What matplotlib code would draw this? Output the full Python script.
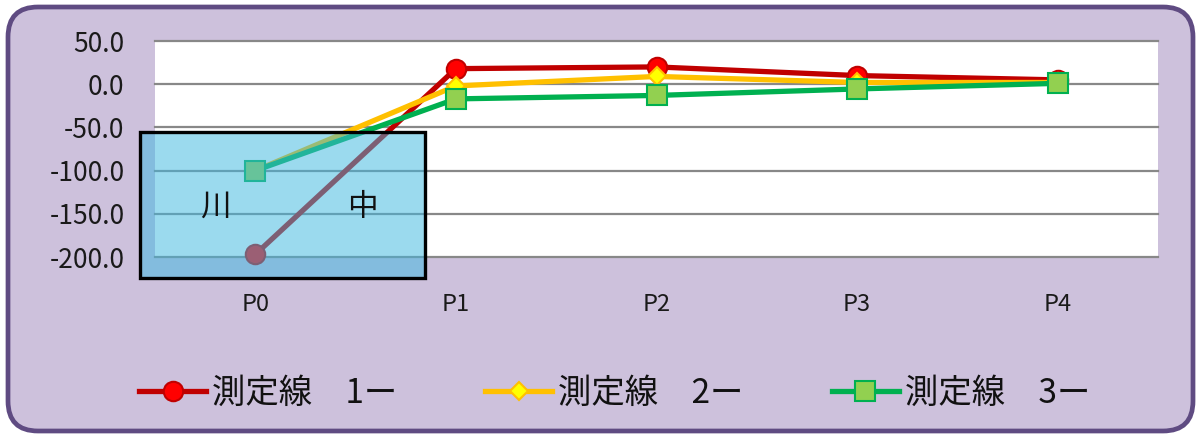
import numpy as np
import matplotlib
matplotlib.use("Agg")
import matplotlib.pyplot as plt
from matplotlib.patches import FancyBboxPatch, Rectangle

plt.rcParams['font.family'] = ['Noto Sans CJK JP', 'DejaVu Sans']

# measurement points and the three survey lines
points = ["P0", "P1", "P2", "P3", "P4"]
line1 = [-197.0, 18.0, 20.0, 10.0, 5.0]
line2 = [-100.0, -2.0, 9.0, 2.0, 2.0]
line3 = [-100.0, -17.0, -13.0, -5.5, 1.0]
names = ["測定線　1ー", "測定線　2ー", "測定線　3ー"]
yticks = [50, 0, -50, -100, -150, -200]

W, H = 1198, 436
fig = plt.figure(figsize=(W / 100, H / 100), dpi=100)
fig.patch.set_facecolor("white")

# rounded lavender frame (inches)
frame = FancyBboxPatch((0.08, 0.05), 11.85, 4.24,
                       boxstyle="round,pad=0,rounding_size=0.3",
                       transform=fig.dpi_scale_trans,
                       facecolor="#cdc1dc", edgecolor="#5f4b82",
                       linewidth=3.4, zorder=-10)
fig.add_artist(frame)

ax = fig.add_axes([155 / W, 1 - 257 / H, 1003 / W, 216 / H])
ax.set_facecolor("white")
x = np.arange(len(points))

styles = [
    dict(color="#c00000", marker="o", markersize=14, markerfacecolor="#ff0000",
         markeredgecolor="#c00000"),
    dict(color="#ffc000", marker="D", markersize=9, markerfacecolor="#ffff00",
         markeredgecolor="#ffc000"),
    dict(color="#00b050", marker="s", markersize=15, markerfacecolor="#92d050",
         markeredgecolor="#00b050"),
]
for vals, name, st in zip([line1, line2, line3], names, styles):
    ax.plot(x, vals, linewidth=3.8, markeredgewidth=1.5, label=name,
            clip_on=False, zorder=3, **st)

ax.set_xlim(-0.5, len(points) - 0.5)
ax.set_ylim(-200, 50)
ax.set_yticks(yticks)
ax.set_yticklabels([f"{v:.1f}" for v in yticks])
ax.set_xticks(x)
ax.set_xticklabels(points)
ax.tick_params(axis="y", length=0, pad=22, labelsize=19, labelcolor="#1a1a1a")
ax.tick_params(axis="x", length=0, pad=26, labelsize=17, labelcolor="#1a1a1a")
ax.yaxis.grid(True, color="#888888", linewidth=1.6)
ax.set_axisbelow(True)
for gl in ax.get_ygridlines():
    gl.set_clip_on(False)
for sp in ax.spines.values():
    sp.set_visible(False)

# translucent river section box
box = Rectangle((1.40, 1.58), 2.85, 1.46, transform=fig.dpi_scale_trans,
                facecolor=(0.25, 0.72, 0.88, 0.52), edgecolor="black",
                linewidth=2.4, zorder=5)
fig.add_artist(box)
fig.text(215 / W, 1 - 207 / H, "川", fontsize=22, ha="center", va="center",
         color="#111111", zorder=6)
fig.text(362 / W, 1 - 207 / H, "中", fontsize=22, ha="center", va="center",
         color="#111111", zorder=6)

fig.legend(loc="center", bbox_to_anchor=(0.513, 1 - 393 / H), ncol=3,
           frameon=False, fontsize=24, handlelength=2.0, handletextpad=0.18,
           columnspacing=2.65, labelcolor="#111111")

fig.savefig("out.png", dpi=100, facecolor=fig.get_facecolor())
